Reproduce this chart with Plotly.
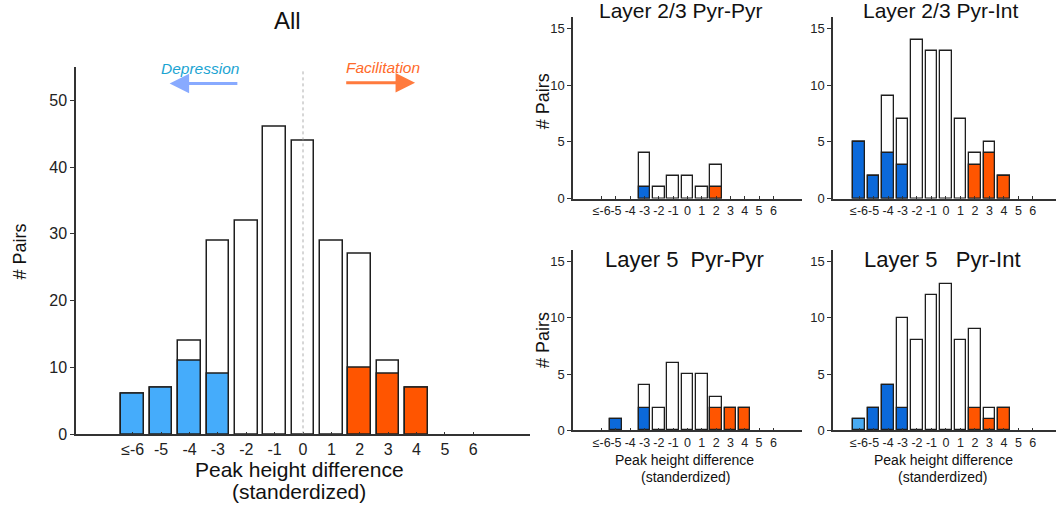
import plotly.graph_objects as go

# ---------------- data ----------------
bins = list(range(-6, 7))
tick_text = ["≤-6", "-5", "-4", "-3", "-2", "-1", "0", "1", "2", "3", "4", "5", "6"]

all_total = [6, 7, 14, 29, 32, 46, 44, 29, 27, 11, 7, 0, 0]
all_sig = [6, 7, 11, 9, 0, 0, 0, 0, 10, 9, 7, 0, 0]

l23_pp_total = [0, 0, 0, 4, 1, 2, 2, 1, 3, 0, 0, 0, 0]
l23_pp_sig = [0, 0, 0, 1, 0, 0, 0, 0, 1, 0, 0, 0, 0]

l23_pi_total = [5, 2, 9, 7, 14, 13, 13, 7, 4, 5, 2, 0, 0]
l23_pi_sig = [5, 2, 4, 3, 0, 0, 0, 0, 3, 4, 2, 0, 0]

l5_pp_total = [0, 1, 0, 4, 2, 6, 5, 5, 3, 2, 2, 0, 0]
l5_pp_sig = [0, 1, 0, 2, 0, 0, 0, 0, 2, 2, 2, 0, 0]

l5_pi_total = [1, 2, 4, 10, 8, 12, 13, 8, 9, 2, 2, 0, 0]
l5_pi_sig = [1, 2, 4, 2, 0, 0, 0, 0, 2, 1, 2, 0, 0]

main_yticks = [0, 10, 20, 30, 40, 50]
sub_yticks = [0, 5, 10, 15]

# ---------------- styles ----------------
FONT = "Liberation Sans, Arial, Helvetica, sans-serif"
LIGHT_BLUE = "#45acfb"
DARK_BLUE = "#0b69da"
ORANGE = "#ff5500"
EDGE = "#1e1e1e"
AX = "#333333"
W = 1056
H = 521


def px_x(p):
    return p / W


def px_y(p):
    return (H - p) / H


fig = go.Figure()

panels = [
    dict(total=all_total, sig=all_sig, xa="x", ya="y", blue=LIGHT_BLUE, lw=1.5),
    dict(total=l23_pp_total, sig=l23_pp_sig, xa="x2", ya="y2", blue=DARK_BLUE, lw=1.3),
    dict(total=l23_pi_total, sig=l23_pi_sig, xa="x3", ya="y3", blue=DARK_BLUE, lw=1.3),
    dict(total=l5_pp_total, sig=l5_pp_sig, xa="x4", ya="y4", blue=DARK_BLUE, lw=1.3),
    dict(total=l5_pi_total, sig=l5_pi_sig, xa="x5", ya="y5", blue=DARK_BLUE, lw=1.3),
]

for i, p in enumerate(panels):
    tot = [v if v > 0 else None for v in p["total"]]
    fig.add_trace(go.Bar(
        x=bins, y=tot, width=0.8,
        marker=dict(color="white", line=dict(color=EDGE, width=p["lw"])),
        xaxis=p["xa"], yaxis=p["ya"], showlegend=False,
    ))
    cols = [p["blue"] if b < 0 else ORANGE for b in bins]
    if i == 4:
        cols[0] = "#48aaf2"
    sig = [v if v > 0 else None for v in p["sig"]]
    fig.add_trace(go.Bar(
        x=bins, y=sig, width=0.8,
        marker=dict(color=cols, line=dict(color=EDGE, width=p["lw"])),
        xaxis=p["xa"], yaxis=p["ya"], showlegend=False,
    ))


def xax(domain, rng, anchor, size):
    return dict(domain=domain, range=rng, anchor=anchor, tickvals=bins, ticktext=tick_text,
                tickangle=0, ticks="inside", ticklen=3, tickcolor=AX, showline=True,
                linecolor=AX, linewidth=1.5, showgrid=False, zeroline=False,
                tickfont=dict(family=FONT, size=size, color="#222"), fixedrange=True)


def yax(domain, rng, anchor, vals, size):
    return dict(domain=domain, range=rng, anchor=anchor, tickvals=vals,
                ticks="outside", ticklen=4, tickcolor=AX, showline=True, linecolor=AX,
                linewidth=1.5, showgrid=False, zeroline=False,
                tickfont=dict(family=FONT, size=size, color="#222"), fixedrange=True)


xl = [px_x(573), px_x(802)]
xr = [px_x(833), 1.0]
yt = [px_y(202), px_y(17.2)]
yb = [px_y(438), px_y(254.5)]

fig.update_layout(
    width=W, height=H, margin=dict(l=0, r=0, t=0, b=0),
    paper_bgcolor="white", plot_bgcolor="white", barmode="overlay", bargap=0,
    font=dict(family=FONT, color="#111"),
    xaxis=xax([px_x(76), px_x(530)], [-8, 8], "y", 16),
    yaxis=yax([px_y(442), px_y(68)], [0, 55], "x", main_yticks, 16),
    xaxis2=xax(xl, [-8, 8], "y2", 12.5),
    yaxis2=yax(yt, [0, 16], "x2", sub_yticks, 13),
    xaxis3=xax(xr, [-7.8, 7.6], "y3", 12.5),
    yaxis3=yax(yt, [0, 16], "x3", sub_yticks, 13),
    xaxis4=xax(xl, [-8, 8], "y4", 12.5),
    yaxis4=yax(yb, [0, 16], "x4", sub_yticks, 13),
    xaxis5=xax(xr, [-7.8, 7.6], "y5", 12.5),
    yaxis5=yax(yb, [0, 16], "x5", sub_yticks, 13),
)

# dashed zero line in main panel
fig.add_shape(type="line", xref="x", yref="y", x0=0, x1=0, y0=0, y1=54.6,
              line=dict(color="#999999", width=0.8, dash="3px,3px"))

ann = []


def txt(x, y, s, size, color="#111", angle=0, italic=False):
    ann.append(dict(x=px_x(x), y=px_y(y), xref="paper", yref="paper", text=s,
                    showarrow=False, textangle=angle, xanchor="center", yanchor="middle",
                    font=dict(family=FONT, size=size, color=color,
                              style="italic" if italic else "normal")))


txt(287, 21, "All", 24)
txt(680, 11, "Layer 2/3 Pyr-Pyr", 21)
txt(940, 11, "Layer 2/3 Pyr-Int", 21)
txt(684, 264, "Layer 5\u00a0\u00a0Pyr-Pyr", 22)
txt(942, 264, "Layer 5\u00a0\u00a0\u00a0Pyr-Int", 22)

txt(20, 256, "# Pairs", 18, angle=-90)
txt(543, 103, "# Pairs", 18, angle=-90)
txt(543, 346, "# Pairs", 18, angle=-90)

txt(299, 478, "Peak height difference", 21)
txt(299, 500, "(standerdized)", 21)
txt(684, 468, "Peak height difference", 14)
txt(686, 485, "(standerdized)", 14)
txt(943, 468, "Peak height difference", 14)
txt(943, 485, "(standerdized)", 14)

txt(200, 70, "Depression", 15.5, color="#1ba4d2", italic=True)
txt(383, 69, "Facilitation", 15.5, color="#ff6a2a", italic=True)

# arrows (data coordinates of main panel)
ann.append(dict(x=-4.7, y=52.5, ax=-2.26, ay=52.5, xref="x", yref="y", axref="x", ayref="y",
                showarrow=True, arrowhead=2, arrowsize=1.3, arrowwidth=3,
                arrowcolor="#88aaff", text=""))
ann.append(dict(x=3.95, y=52.6, ax=1.47, ay=52.6, xref="x", yref="y", axref="x", ayref="y",
                showarrow=True, arrowhead=2, arrowsize=1.3, arrowwidth=3,
                arrowcolor="#ff7a3d", text=""))

fig.update_layout(annotations=ann)

fig.write_html("out.html")
